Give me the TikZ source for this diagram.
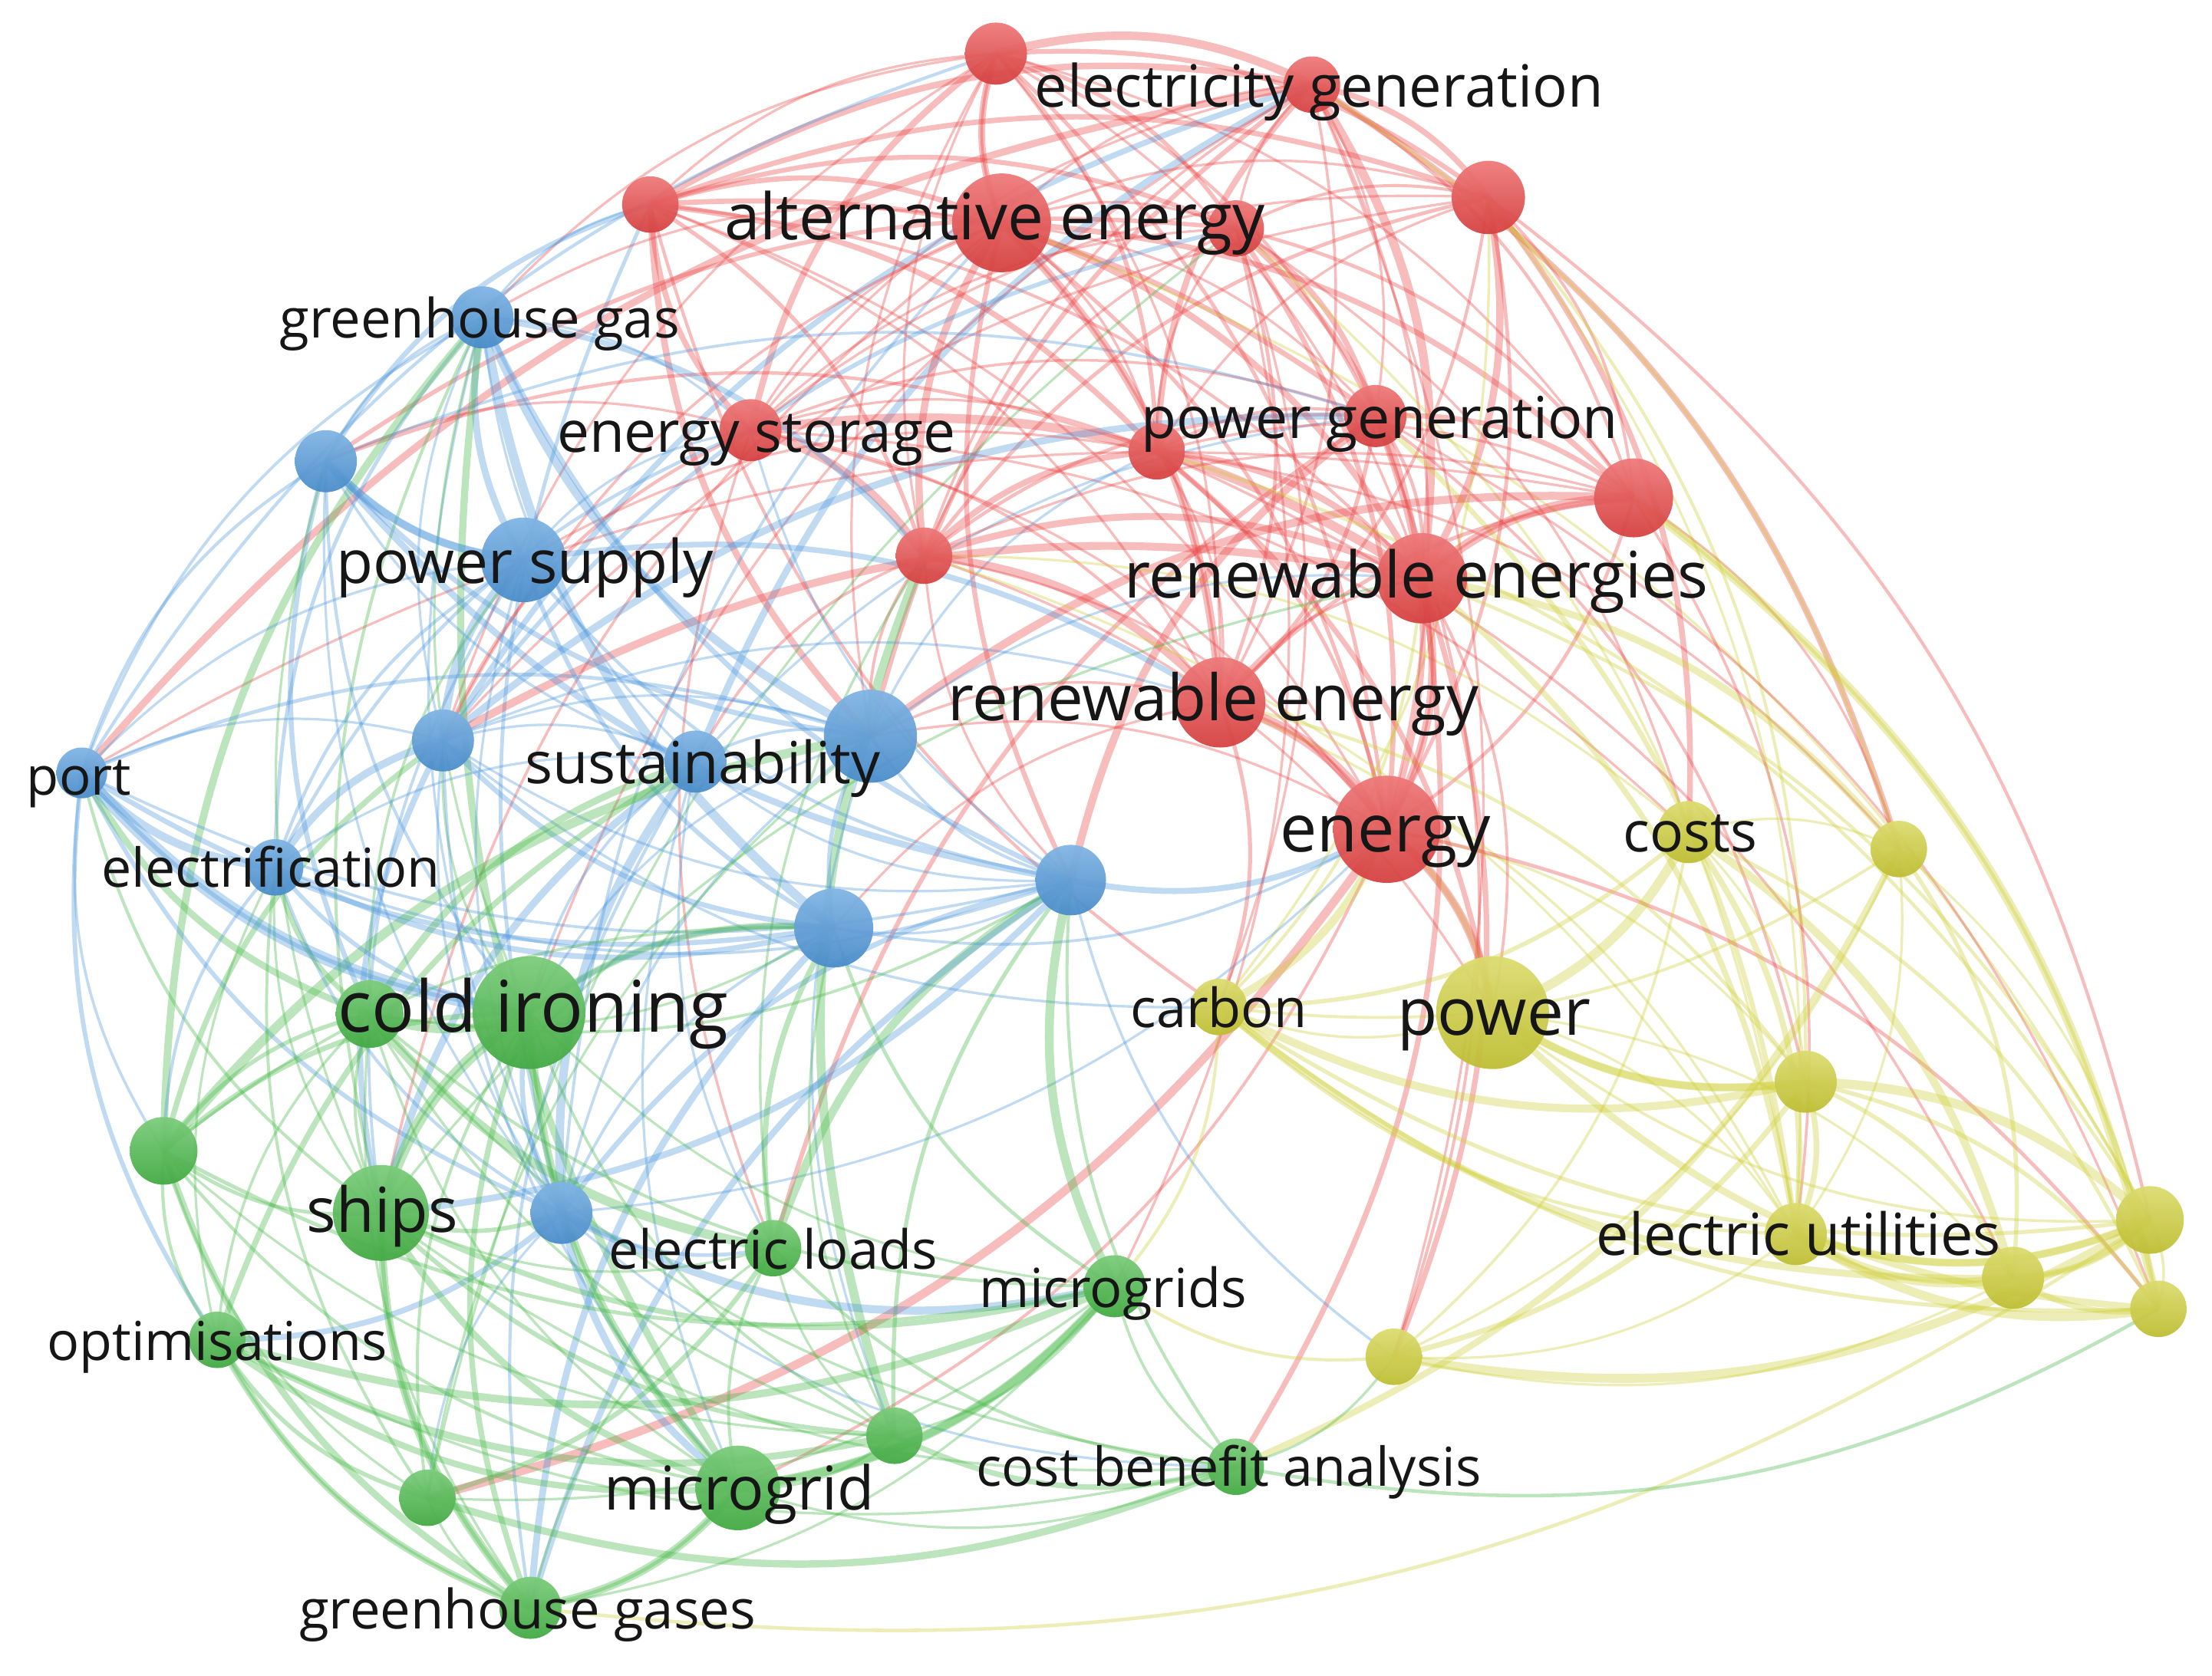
\documentclass[tikz,border=0pt]{standalone}
\usepackage{fontspec}
\setmainfont{Open Sans}
\usetikzlibrary{backgrounds}
\definecolor{cR}{RGB}{232,70,70}
\definecolor{cB}{RGB}{80,152,218}
\definecolor{cG}{RGB}{72,184,72}
\definecolor{cY}{RGB}{206,206,56}
\definecolor{txt}{RGB}{22,22,22}
\def\NX{{0,706,930,461,710,876,1055,532,975,820,1158,655,1008,865,983,342,231,371,314,58,493,617,195,759,591,398,375,262,116,270,548,790,154,634,523,876,303,376,1197,1346,864,1058,1280,1273,1524,1427,1530,988}}
\def\NY{{0,38,60,145,158,162,140,305,295,320,353,394,410,498,588,225,327,397,525,548,540,522,615,624,658,860,718,719,816,860,885,912,950,1018,1055,1040,1062,1140,590,602,714,718,767,875,865,906,928,962}}
\def\NR{{0,22,20,20,35,20,26,22,22,20,28,20,32,32,38,22,22,30,22,18,22,33,20,25,28,22,40,24,24,34,20,22,20,20,30,20,20,22,22,20,20,40,22,22,24,22,20,20}}
\def\CL{{"X","R","R","R","R","R","R","R","R","R","R","R","R","R","R","B","B","B","B","B","B","B","B","B","B","B","G","G","G","G","G","G","G","G","G","G","G","G","Y","Y","Y","Y","Y","Y","Y","Y","Y","Y"}}
\def\pRR{0.95}\def\pBB{0.85}\def\pGG{0.85}\def\pYY{0.85}
\def\pRB{0.45}\def\pBR{0.45}\def\pRY{0.45}\def\pYR{0.45}
\def\pBG{0.55}\def\pGB{0.55}\def\pGY{0.22}\def\pYG{0.22}
\def\pRG{0.2}\def\pGR{0.2}\def\pBY{0.1}\def\pYB{0.1}
\newcommand\mylink[4]{%
  \pgfmathsetmacro\crs{((\NX[#1]-800)/100)*((\NY[#2]-\NY[#1])/100)-((\NY[#1]-600)/100)*((\NX[#2]-\NX[#1])/100)}%
  \ifdim\crs pt>0pt
    \draw[color=c#4, line width=#3pt, opacity=0.36] (n#1.center) to[bend left=20] (n#2.center);
  \else
    \draw[color=c#4, line width=#3pt, opacity=0.36] (n#1.center) to[bend right=20] (n#2.center);
  \fi}
\tikzset{
  kw/.style={circle, inner sep=0pt, draw=none},
  lbl/.style={text=txt, inner sep=0pt, text height=0.72em, text depth=0.22em, anchor=center}
}
\begin{document}
\begin{tikzpicture}[x=0.018386cm,y=-0.018386cm]
\useasboundingbox (0,0) rectangle (1568,1188);
% keyword circles
\foreach \i in {1,...,47} {
  \pgfmathsetmacro\x{\NX[\i]}
  \pgfmathsetmacro\y{\NY[\i]}
  \pgfmathsetmacro\r{\NR[\i]}
  \pgfmathparse{\CL[\i]}\let\c\pgfmathresult
  \node[kw, minimum size=\r*0.036772cm, top color=c\c!72!white, bottom color=c\c!92!black, opacity=0.95] (n\i) at (\x,\y) {};
}
% links
\begin{scope}[on background layer]
\pgfmathsetseed{11}
\foreach \i in {1,...,46} {
  \pgfmathtruncatemacro\s{\i+1}
  \foreach \j in {\s,...,47} {
    \pgfmathparse{\CL[\i]}\let\ci\pgfmathresult
    \pgfmathparse{\CL[\j]}\let\cj\pgfmathresult
    \edef\pp{\csname p\ci\cj\endcsname}
    \ifx\ci\cj\else
      \pgfmathsetmacro\dd{sqrt(((\NX[\j]-\NX[\i])/100)^2+((\NY[\j]-\NY[\i])/100)^2)}
      \pgfmathsetmacro\pp{\pp*1.5*exp(-(\dd/6)^2)}
    \fi
    \pgfmathsetmacro\rr{rnd}
    \ifdim\rr pt<\pp pt
      \pgfmathsetmacro\w{0.9+2.6*rnd^3}
      \pgfmathtruncatemacro\pick{rnd<0.5}
      \ifnum\pick=1 \edef\ce{\ci}\else\edef\ce{\cj}\fi
      \mylink{\i}{\j}{\w}{\ce}
    \fi
  }
}
\foreach \a/\b/\w/\c in {19/26/4.5/B,16/17/3/B,26/29/4/G,26/27/3/G,29/37/3/G,34/31/3.5/G,34/37/3/G,13/14/3.5/R,14/41/3/R,43/45/3.5/Y,43/44/2.5/Y,45/44/2.5/Y,4/1/2.5/R,12/10/3.5/R,38/41/3.5/Y,26/24/2.5/G,32/37/2.5/G,28/37/2.5/G,19/22/3/B,4/13/3/R,12/14/3/R,41/42/3/Y,26/34/3/G,37/44/1.3/Y,19/1/1.2/B,35/46/1.3/G,6/44/1.2/R,10/46/1.2/Y,2/39/1.2/Y}
  {\mylink{\a}{\b}{\w}{\c}}
\end{scope}
% labels
\foreach \i/\x/\y/\s/\t in {
  2/935/62/21.6/electricity generation,
  4/705/156/23.8/alternative energy,
  15/340/226/20.1/greenhouse gas,
  7/536/307/21.3/energy storage,
  8/978/297/21.4/power generation,
  17/372/400/22.3/power supply,
  12/1004/410/23.8/renewable energies,
  13/860/497/23.7/renewable energy,
  20/498/542/21.5/sustainability,
  19/56/550/19.6/port,
  22/192/615/19.9/electrification,
  14/982/590/24.5/energy,
  38/1198/590/20.8/costs,
  26/378/718/26.4/cold ironing,
  40/864/715/20/carbon,
  41/1059/720/24.3/power,
  29/271/860/23/ships,
  30/548/886/20/electric loads,
  43/1275/876/21.5/electric utilities,
  31/789/913/20/microgrids,
  32/154/951/19.9/optimisations,
  34/524/1057/22.4/microgrid,
  35/871/1040/19.9/cost benefit analysis,
  37/374/1141/20.1/greenhouse gases}
  {\node[lbl, font=\fontsize{\s}{\s}\selectfont] (l\i) at (\x,{\y+9}) {\t};}
\end{tikzpicture}
\end{document}
